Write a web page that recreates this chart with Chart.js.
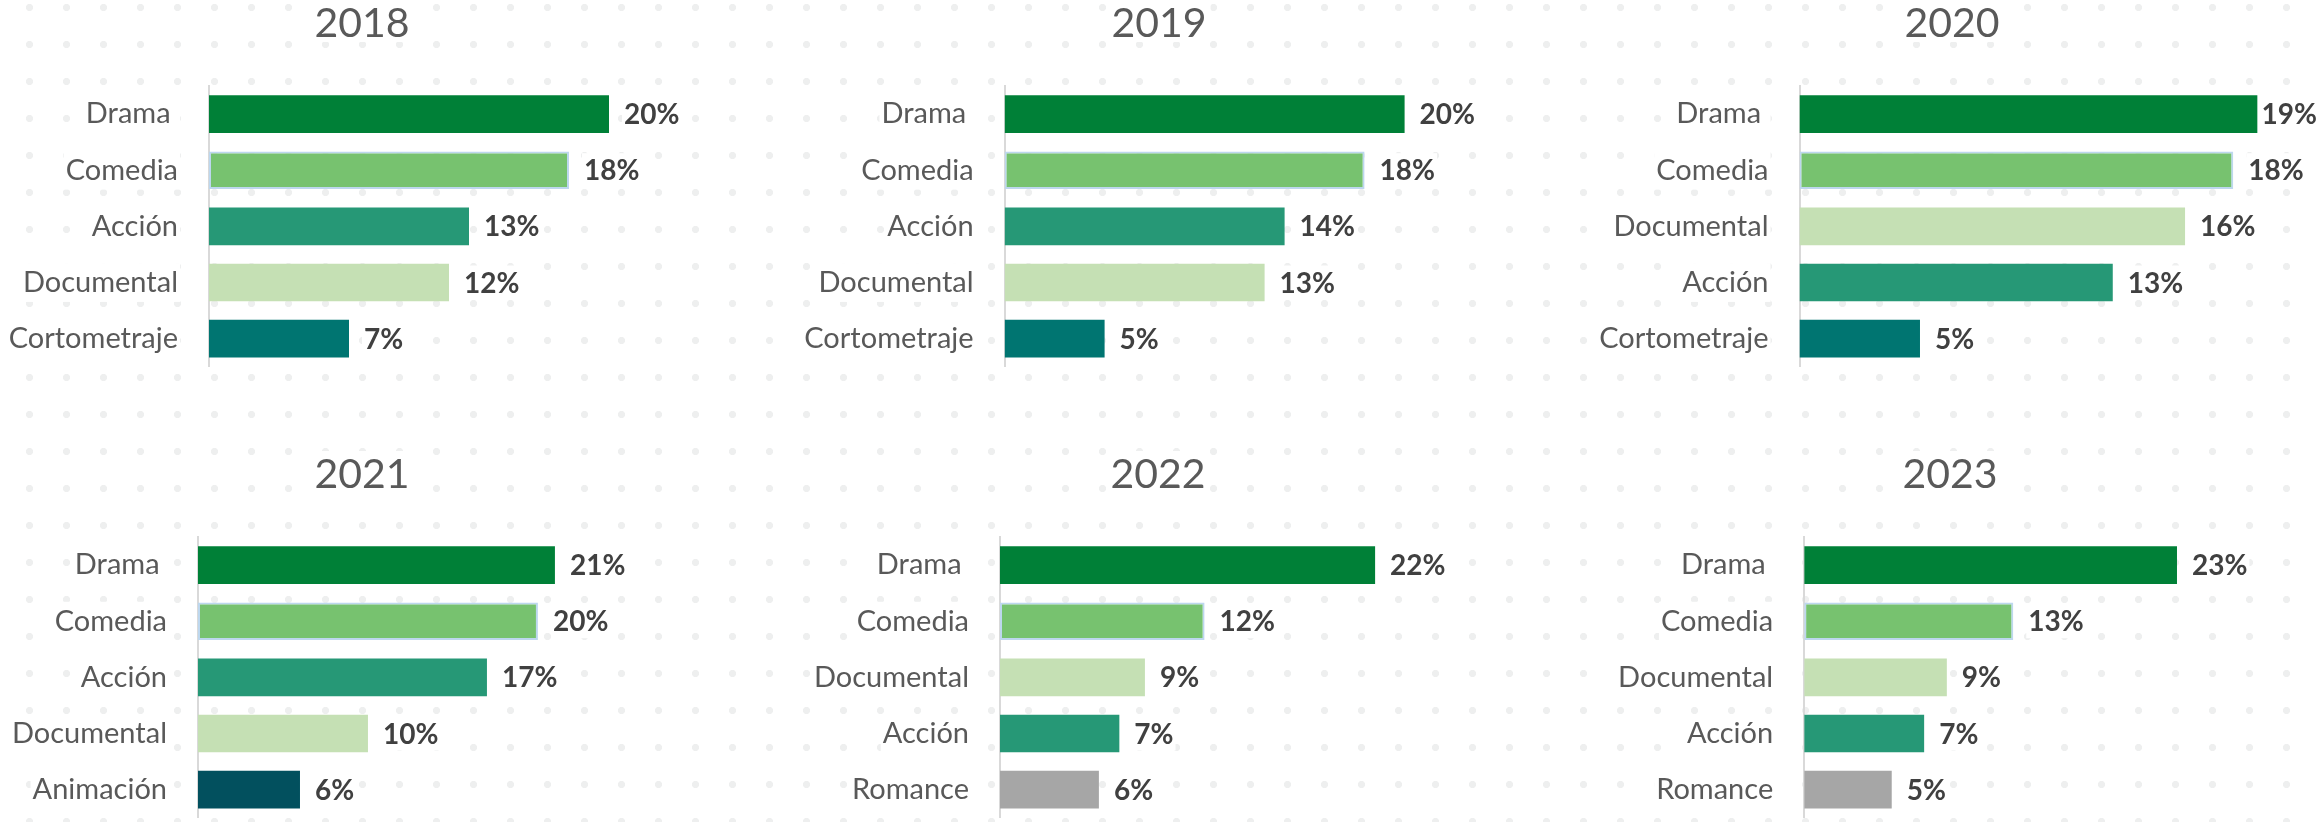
<!DOCTYPE html>
<html lang="es">
<head>
  <meta charset="UTF-8">
  <title>Géneros por año</title>
  <style>
    html, body {
      margin: 0;
      padding: 0;
    }
    body {
      width: 2320px;
      height: 822px;
      overflow: hidden;
      position: relative;
      background-color: #ffffff;
      background-image: radial-gradient(circle, #eeefef 3.3px, rgba(255, 255, 255, 0) 3.9px);
      background-size: 37px 37px;
      background-position: 11px -11px;
    }
    canvas {
      position: absolute;
    }
  </style>
</head>
<body>
  <canvas id="c2018" width="736" height="400"></canvas>
  <canvas id="c2019" width="736" height="400"></canvas>
  <canvas id="c2020" width="736" height="400"></canvas>
  <canvas id="c2021" width="736" height="400"></canvas>
  <canvas id="c2022" width="736" height="400"></canvas>
  <canvas id="c2023" width="736" height="400"></canvas>

  <script src="https://cdn.jsdelivr.net/npm/chart.js"></script>
  <script>
    // data (shares in %)
    const years = ['2018', '2019', '2020', '2021', '2022', '2023'];

    const genres2018 = ['Drama ', 'Comedia', 'Acción', 'Documental', 'Cortometraje'];
    const values2018 = [20, 18, 13, 12, 7];

    const genres2019 = ['Drama ', 'Comedia', 'Acción', 'Documental', 'Cortometraje'];
    const values2019 = [20, 18, 14, 13, 5];

    const genres2020 = ['Drama ', 'Comedia', 'Documental', 'Acción', 'Cortometraje'];
    const values2020 = [19, 18, 16, 13, 5];

    const genres2021 = ['Drama ', 'Comedia', 'Acción', 'Documental', 'Animación'];
    const values2021 = [21, 20, 17, 10, 6];

    const genres2022 = ['Drama ', 'Comedia', 'Documental', 'Acción', 'Romance'];
    const values2022 = [22, 12, 8.5, 7, 5.8];

    const genres2023 = ['Drama ', 'Comedia', 'Documental', 'Acción', 'Romance'];
    const values2023 = [23, 12.9, 8.8, 7.4, 5.4];

    const genreLists = [genres2018, genres2019, genres2020, genres2021, genres2022, genres2023];
    const valueLists = [values2018, values2019, values2020, values2021, values2022, values2023];

    // colours per genre
    const genreColors = {
      'Drama': '#008037',
      'Comedia': '#77C26F',
      'Acción': '#269876',
      'Documental': '#C5E0B4',
      'Cortometraje': '#007571',
      'Animación': '#02505E',
      'Romance': '#A6A6A6'
    };

    // panel placement: canvas left/top, width of the label column, x axis max
    const panels = [
      { left: -6,     top: 0,   yWidth: 215,   xMax: 26.05 },
      { left: 790.8,  top: 0,   yWidth: 213.6, xMax: 26.12 },
      { left: 1584,   top: 0,   yWidth: 215.5, xMax: 21.6 },
      { left: -6,     top: 451, yWidth: 204,   xMax: 31.3 },
      { left: 789.5,  top: 451, yWidth: 210,   xMax: 30.85 },
      { left: 1581.7, top: 451, yWidth: 222.2, xMax: 31.7 }
    ];

    const FONT = 'Lato, "Open Sans", sans-serif';

    // white box behind the year title, like the text boxes in the original
    const titleBackdrop = {
      id: 'titleBackdrop',
      beforeDraw(chart) {
        const ctx = chart.ctx;
        ctx.save();
        ctx.font = '41px ' + FONT;
        const w = ctx.measureText(chart.options.plugins.title.text).width;
        ctx.fillStyle = '#ffffff';
        ctx.fillRect(chart.width / 2 - w / 2 - 4, 0, w + 8, 42);
        ctx.restore();
      }
    };

    // percentage labels at the end of every bar
    const valueLabels = {
      id: 'valueLabels',
      afterDatasetsDraw(chart) {
        const ctx = chart.ctx;
        const data = chart.data.datasets[0].data;
        ctx.save();
        ctx.font = 'bold 28px ' + FONT;
        ctx.textBaseline = 'middle';
        ctx.textAlign = 'left';
        chart.getDatasetMeta(0).data.forEach(function(bar, i) {
          const txt = Math.round(data[i]) + '%';
          const w = ctx.measureText(txt).width;
          const x = Math.min(bar.x + 15, chart.width - w - 3);
          ctx.fillStyle = '#ffffff';
          ctx.fillRect(x - 2, bar.y - 17, w + 4, 34);
          ctx.fillStyle = '#404040';
          ctx.fillText(txt, x, bar.y + 1);
        });
        ctx.restore();
      }
    };

    years.forEach(function(year, p) {
      const panel = panels[p];
      const labels = genreLists[p];
      const canvas = document.getElementById('c' + year);
      canvas.style.left = panel.left + 'px';
      canvas.style.top = panel.top + 'px';

      const colors = labels.map(g => genreColors[g.trim()]);
      const borders = labels.map(g => g.trim() === 'Comedia' ? '#BDD7EE' : genreColors[g.trim()]);
      const borderWidths = labels.map(g => g.trim() === 'Comedia' ? 2 : 0);

      new Chart(canvas, {
        type: 'bar',
        data: {
          labels: labels,
          datasets: [{
            label: year,
            data: valueLists[p],
            backgroundColor: colors,
            borderColor: borders,
            borderWidth: borderWidths,
            borderSkipped: false,
            categoryPercentage: 1,
            barPercentage: 0.67
          }]
        },
        options: {
          indexAxis: 'y',
          responsive: false,
          animation: false,
          devicePixelRatio: 1,
          events: [],
          layout: { padding: { left: 0, right: 0, top: 0, bottom: 33.3 } },
          scales: {
            x: {
              display: false,
              min: 0,
              max: panel.xMax
            },
            y: {
              // fixed label column, and no extra room above/below the bars
              afterFit: function(scale) {
                scale.width = panel.yWidth;
                scale.paddingTop = 0;
                scale.paddingBottom = 0;
              },
              grid: { display: false, drawTicks: false },
              border: { display: true, color: '#D9D9D9', width: 2 },
              ticks: {
                padding: 31,
                color: '#595959',
                font: { family: FONT, size: 29 },
                showLabelBackdrop: true,
                backdropColor: '#ffffff',
                backdropPadding: 2
              }
            }
          },
          plugins: {
            legend: { display: false },
            tooltip: { enabled: false },
            title: {
              display: true,
              text: year,
              color: '#595959',
              font: { family: FONT, size: 41, weight: 'normal', lineHeight: 1 },
              padding: { top: 3.5, bottom: 41.5 }
            }
          }
        },
        plugins: [titleBackdrop, valueLabels]
      });
    });
  </script>
</body>
</html>
